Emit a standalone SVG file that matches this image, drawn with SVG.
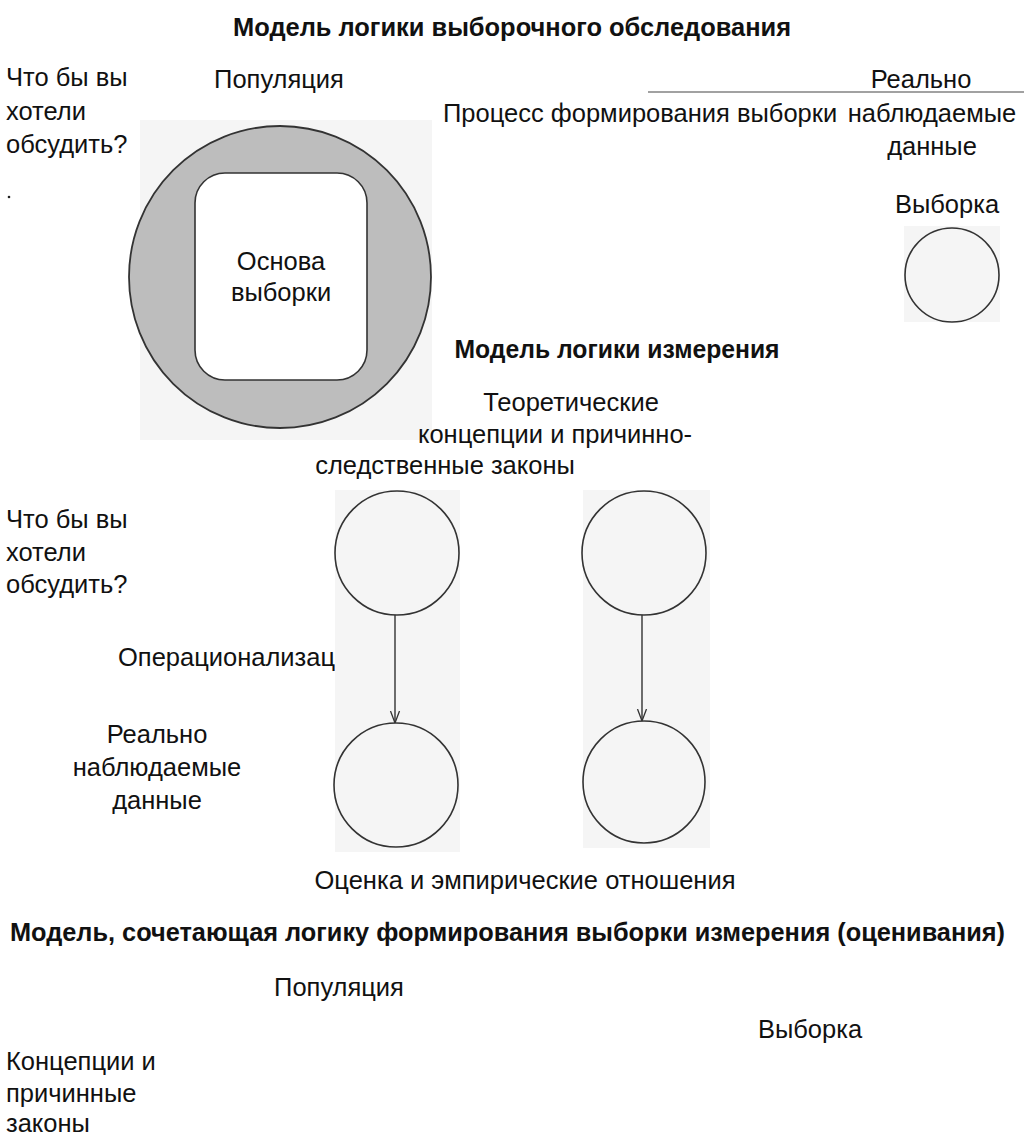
<svg xmlns="http://www.w3.org/2000/svg" width="1024" height="1135" viewBox="0 0 1024 1135">
<style>
  text { font-family: "Liberation Sans", Arial, sans-serif; font-size: 25.5px; fill: #111; }
  .b { font-weight: bold; font-size: 25px; }
  .m { text-anchor: middle; }
  .tex { fill: #f5f5f5; }
  .c { fill: none; stroke: #333; stroke-width: 1.6; }
  .ln { stroke: #333; stroke-width: 1.4; fill: none; }
</style>
<defs>
  <marker id="v" viewBox="0 0 12 12" refX="12" refY="6" markerWidth="12" markerHeight="12" markerUnits="userSpaceOnUse" orient="auto">
    <path d="M0,1.5 L12,6 L0,10.5" fill="none" stroke="#333" stroke-width="1.3"/>
  </marker>
</defs>
<rect width="1024" height="1135" fill="#fff"/>

<text class="b m" x="512" y="36" textLength="558" lengthAdjust="spacingAndGlyphs">Модель логики выборочного обследования</text>

<g id="q1">
  <text x="6" y="86">Что бы вы</text>
  <text x="6" y="120">хотели</text>
  <text x="6" y="153">обсудить?</text>
  <circle cx="9" cy="197" r="1.3" fill="#222"/>
</g>

<g id="population1">
  <rect class="tex" x="140" y="120" width="292" height="320"/>
  <circle cx="280" cy="277" r="151" fill="#bdbdbd" stroke="#333" stroke-width="1.8"/>
  <rect x="195" y="173" width="172" height="207" rx="30" fill="#fff" stroke="#333" stroke-width="1.6"/>
  <text class="m" x="279" y="88">Популяция</text>
  <text class="m" x="281" y="270">Основа</text>
  <text class="m" x="281" y="301">выборки</text>
</g>

<g id="process">
  <line x1="648" y1="92" x2="1024" y2="92" stroke="#444" stroke-width="1.2"/>
  <text x="443" y="122">Процесс формирования выборки</text>
</g>

<g id="observed1">
  <text class="m" x="921" y="88">Реально</text>
  <text class="m" x="932" y="122">наблюдаемые</text>
  <text class="m" x="932" y="155">данные</text>
</g>

<g id="sample1">
  <rect class="tex" x="904" y="226" width="96" height="96"/>
  <circle class="c" cx="952" cy="275" r="47"/>
  <text class="m" x="947" y="213">Выборка</text>
</g>

<text class="b m" x="617" y="358" textLength="325" lengthAdjust="spacingAndGlyphs">Модель логики измерения</text>

<g id="theory">
  <text class="m" x="571" y="411">Теоретические</text>
  <text class="m" x="555" y="443">концепции и причинно-</text>
  <text class="m" x="445" y="474">следственные законы</text>
</g>

<g id="q2">
  <text x="6" y="528">Что бы вы</text>
  <text x="6" y="561">хотели</text>
  <text x="6" y="593">обсудить?</text>
</g>

<g id="oper">
  <text x="118" y="666">Операционализац</text>
</g>

<g id="observed2">
  <text class="m" x="157" y="743">Реально</text>
  <text class="m" x="157" y="776">наблюдаемые</text>
  <text class="m" x="157" y="809">данные</text>
</g>

<g id="texture-mid">
  <rect class="tex" x="335" y="490" width="125" height="362"/>
  <rect class="tex" x="583" y="490" width="127" height="358"/>
</g>

<g id="c-top-left"><circle class="c" cx="397" cy="553" r="62"/></g>
<g id="c-top-right"><circle class="c" cx="644" cy="553" r="62"/></g>
<g id="c-bot-left"><circle class="c" cx="396" cy="785" r="62"/></g>
<g id="c-bot-right"><circle class="c" cx="644" cy="782" r="61"/></g>

<g id="connectors">
  <line class="ln" x1="395" y1="615" x2="395" y2="723" marker-end="url(#v)"/>
  <line class="ln" x1="642" y1="615" x2="642" y2="721" marker-end="url(#v)"/>
</g>

<g id="estimate">
  <text class="m" x="525" y="889">Оценка и эмпирические отношения</text>
</g>

<text class="b" x="10" y="941" textLength="995" lengthAdjust="spacingAndGlyphs">Модель, сочетающая логику формирования выборки измерения (оценивания)</text>

<g id="population2"><text class="m" x="339" y="996">Популяция</text></g>
<g id="sample2"><text class="m" x="810" y="1038">Выборка</text></g>
<g id="concepts">
  <text x="6" y="1070">Концепции и</text>
  <text x="6" y="1102">причинные</text>
  <text x="6" y="1132">законы</text>
</g>
</svg>
